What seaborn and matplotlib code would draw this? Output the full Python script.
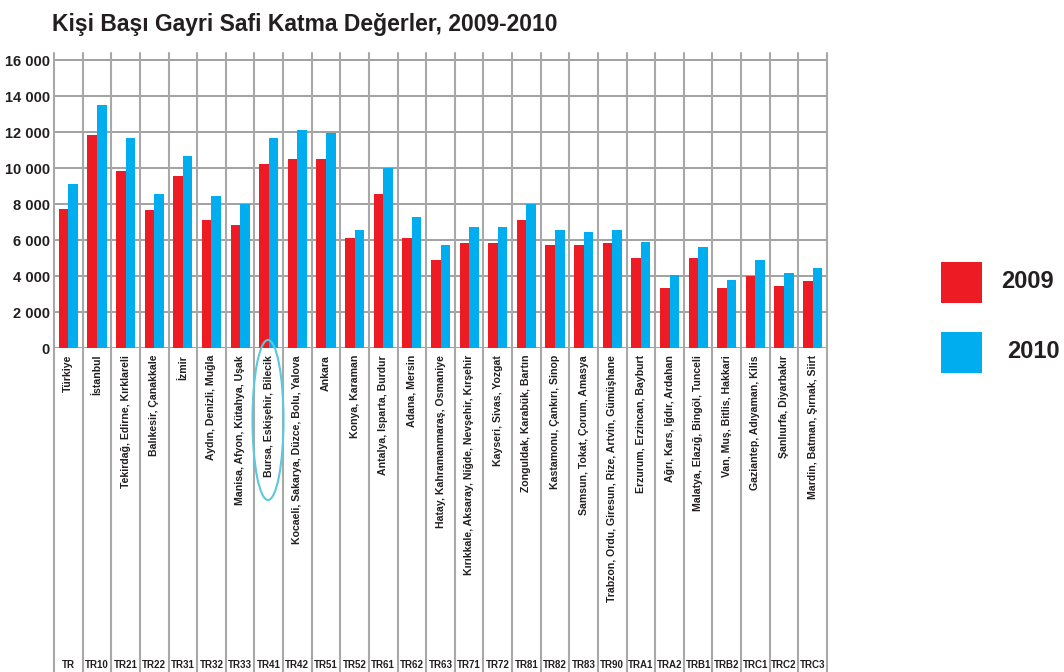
import pandas as pd
import matplotlib.pyplot as plt
import seaborn as sns
from matplotlib.patches import Rectangle, Ellipse
from matplotlib.transforms import blended_transform_factory

sns.set_style("white")
plt.rcParams['font.family'] = ['Liberation Sans Narrow', 'Liberation Sans', 'DejaVu Sans']
plt.rcParams['font.weight'] = 'bold'

# === 資料 ===
codes = ["TR", "TR10", "TR21", "TR22", "TR31", "TR32", "TR33", "TR41", "TR42",
         "TR51", "TR52", "TR61", "TR62", "TR63", "TR71", "TR72", "TR81", "TR82",
         "TR83", "TR90", "TRA1", "TRA2", "TRB1", "TRB2", "TRC1", "TRC2", "TRC3"]
regions = ["Türkiye", "İstanbul", "Tekirdağ, Edirne, Kırklareli", "Balıkesir, Çanakkale",
           "İzmir", "Aydın, Denizli, Muğla", "Manisa, Afyon, Kütahya, Uşak",
           "Bursa, Eskişehir, Bilecik", "Kocaeli, Sakarya, Düzce, Bolu, Yalova",
           "Ankara", "Konya, Karaman", "Antalya, Isparta, Burdur", "Adana, Mersin",
           "Hatay, Kahramanmaraş, Osmaniye", "Kırıkkale, Aksaray, Niğde, Nevşehir, Kırşehir",
           "Kayseri, Sivas, Yozgat", "Zonguldak, Karabük, Bartın",
           "Kastamonu, Çankırı, Sinop", "Samsun, Tokat, Çorum, Amasya",
           "Trabzon, Ordu, Giresun, Rize, Artvin, Gümüşhane", "Erzurum, Erzincan, Bayburt",
           "Ağrı, Kars, Iğdır, Ardahan", "Malatya, Elazığ, Bingöl, Tunceli",
           "Van, Muş, Bitlis, Hakkari", "Gaziantep, Adıyaman, Kilis",
           "Şanlıurfa, Diyarbakır", "Mardin, Batman, Şırnak, Siirt"]
v2009 = [7720, 11830, 9830, 7670, 9560, 7110, 6830, 10220, 10500, 10500, 6110, 8560,
         6110, 4890, 5830, 5830, 7110, 5720, 5720, 5830, 5000, 3330, 5000, 3330,
         4000, 3440, 3720]
v2010 = [9110, 13500, 11670, 8560, 10670, 8440, 8000, 11670, 12110, 11940, 6560, 10000,
         7280, 5720, 6720, 6720, 8000, 6560, 6440, 6560, 5890, 4060, 5610, 3780,
         4890, 4170, 4440]
years = ["2009", "2010"]
colors = ["#ED1C24", "#00AEEF"]

df = pd.DataFrame({
    "Region": regions * 2,
    "Year": [years[0]] * len(regions) + [years[1]] * len(regions),
    "Value": v2009 + v2010,
})

W, H = 1064, 672
fig = plt.figure(figsize=(W / 100, H / 100), dpi=100)
ax = fig.add_axes([54 / W, (H - 348) / H, (827 - 54) / W, (348 - 53) / H])

sns.barplot(data=df, x="Region", y="Value", hue="Year", palette=colors,
            width=0.67, saturation=1, linewidth=0, legend=False, ax=ax, zorder=2)

n = len(regions)
ax.set_xlim(-0.5, n - 0.5)
ax.set_ylim(0, 16000 * 295 / 288)
ax.set_yticks(range(0, 16001, 2000))
ax.set_yticklabels([f"{v:,}".replace(",", " ") for v in range(0, 16001, 2000)],
                   fontsize=10.5, fontweight="bold", color="#231f20")
ax.set_xticks(range(n))
ax.set_xticklabels(regions, rotation=90, va="top", ha="center",
                   fontsize=7.6, fontweight="bold", color="#231f20")
ax.tick_params(axis="both", length=0)
ax.tick_params(axis="x", pad=5)
ax.tick_params(axis="y", pad=3)
ax.set_xlabel("")
ax.set_ylabel("")
for s in ax.spines.values():
    s.set_visible(False)

# 格線
for v in range(0, 16001, 2000):
    ax.axhline(v, color="#9a9a9a", lw=1.3, zorder=1)
below = (H - 348) / 295
for i in range(n + 1):
    ax.axvline(i - 0.5, ymin=-below, ymax=1, color="#a8a8a8", lw=1.5,
               clip_on=False, zorder=1)

# 地區代碼
tr = blended_transform_factory(ax.transData, fig.transFigure)
for i, c in enumerate(codes):
    ax.text(i, 2 / H, c, transform=tr, ha="center", va="bottom",
            fontsize=7, fontweight="bold", color="#231f20")

# 標註橢圓
fig.add_artist(Ellipse((268 / W, (H - 420) / H), 31 / W, 160 / H,
                       transform=fig.transFigure, fill=False,
                       edgecolor="#5BC8DC", lw=1.5))

# 標題
fig.text(52 / W, (H - 31) / H, "Kişi Başı Gayri Safi Katma Değerler, 2009-2010",
         fontsize=16.5, fontweight="bold", color="#231f20", ha="left", va="baseline")

# 圖例
for (y0, lab, col, xt) in [(262, "2009", colors[0], 1054), (332, "2010", colors[1], 1060)]:
    fig.add_artist(Rectangle((941 / W, (H - y0 - 41) / H), 41 / W, 41 / H,
                             transform=fig.transFigure, color=col, lw=0))
    fig.text(xt / W, (H - y0 - 20) / H, lab, fontsize=17, fontweight="bold",
             color="#231f20", ha="right", va="center")

fig.savefig("out.png", dpi=100)
